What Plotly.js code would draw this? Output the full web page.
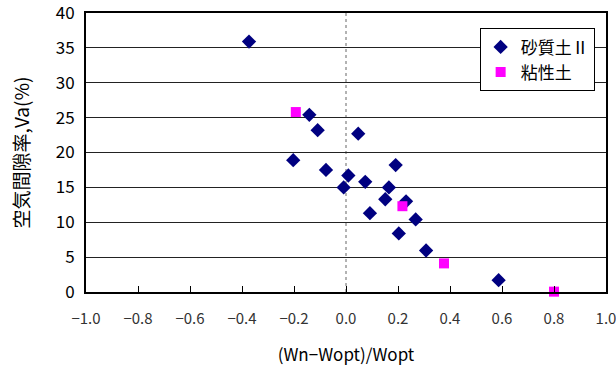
<!DOCTYPE html>
<html><head><meta charset="utf-8">
<script src="https://cdn.plot.ly/plotly-3.0.1.min.js"></script>
<style>html,body{margin:0;padding:0;background:#fff;}#chart{width:616px;height:371px;}</style>
</head><body><div id="chart"></div>
<script>
const sandX = [-0.373, -0.141, -0.109, 0.047, -0.203, -0.077, 0.009, -0.009, 0.191, 0.074, 0.165, 0.151, 0.231, 0.092, 0.268, 0.203, 0.308, 0.587];
const sandY = [35.9, 25.4, 23.2, 22.7, 18.9, 17.5, 16.7, 15.0, 18.2, 15.8, 15.0, 13.3, 13.0, 11.3, 10.4, 8.4, 5.95, 1.7];
const clayX = [-0.193, 0.217, 0.377, 0.8];
const clayY = [25.8, 12.3, 4.1, 0.05];
const seriesNames = ['砂質土Ⅱ', '粘性土'];
const xTicks = [-1.0, -0.8, -0.6, -0.4, -0.2, 0.0, 0.2, 0.4, 0.6, 0.8, 1.0];
const yTicks = [0, 5, 10, 15, 20, 25, 30, 35, 40];

const font = '"Noto Sans CJK JP", "Noto Sans", sans-serif';
const traces = [
  {x: sandX, y: sandY, name: seriesNames[0], type: 'scatter', mode: 'markers',
   marker: {symbol: 'diamond', size: 11, color: '#000080'}, cliponaxis: false},
  {x: clayX, y: clayY, name: seriesNames[1], type: 'scatter', mode: 'markers',
   marker: {symbol: 'square', size: 10, color: '#ff00ff'}, cliponaxis: false}
];
const layout = {
  width: 616, height: 371,
  margin: {l: 86, r: 10, t: 13, b: 79},
  paper_bgcolor: '#fff', plot_bgcolor: '#fff',
  font: {family: font, color: '#000'},
  showlegend: true,
  legend: {x: 0.757, y: 0.945, xanchor: 'left', yanchor: 'top',
    bgcolor: '#fff', bordercolor: '#000', borderwidth: 1,
    font: {size: 17, family: font, color: '#000'}, itemwidth: 30, tracegroupgap: 0},
  xaxis: {range: [-1, 1], tickvals: xTicks, ticktext: xTicks.map(v => (v < 0 ? '−' : '') + Math.abs(v).toFixed(1)),
    ticks: 'inside', ticklen: 6, tickcolor: '#000', tickwidth: 1, ticklabelstandoff: 12, ticklabeloverflow: 'allow',
    showgrid: false, zeroline: false, showline: true, linecolor: '#000', linewidth: 2, mirror: true,
    tickfont: {size: 15, color: '#333', family: font},
    title: {text: '(Wn−Wopt)/Wopt', font: {size: 17, family: font, color: '#000'}, standoff: 22}},
  yaxis: {range: [0, 40], tickvals: yTicks, ticks: '', showgrid: true, gridcolor: '#222', gridwidth: 1,
    ticklabelstandoff: 6, ticklabeloverflow: 'allow',
    zeroline: false, showline: true, linecolor: '#000', linewidth: 2, mirror: true,
    tickfont: {size: 17, color: '#000', family: font},
    title: {text: '空気間隙率,Va(%)', font: {size: 19, family: font, color: '#000'}, standoff: 21}},
  shapes: [{type: 'line', xref: 'x', yref: 'paper', x0: 0, x1: 0, y0: 0, y1: 1,
    line: {color: '#666', width: 1, dash: 'dot'}, layer: 'below'}]
};
Plotly.newPlot('chart', traces, layout, {displayModeBar: false, staticPlot: true});
</script></body></html>
